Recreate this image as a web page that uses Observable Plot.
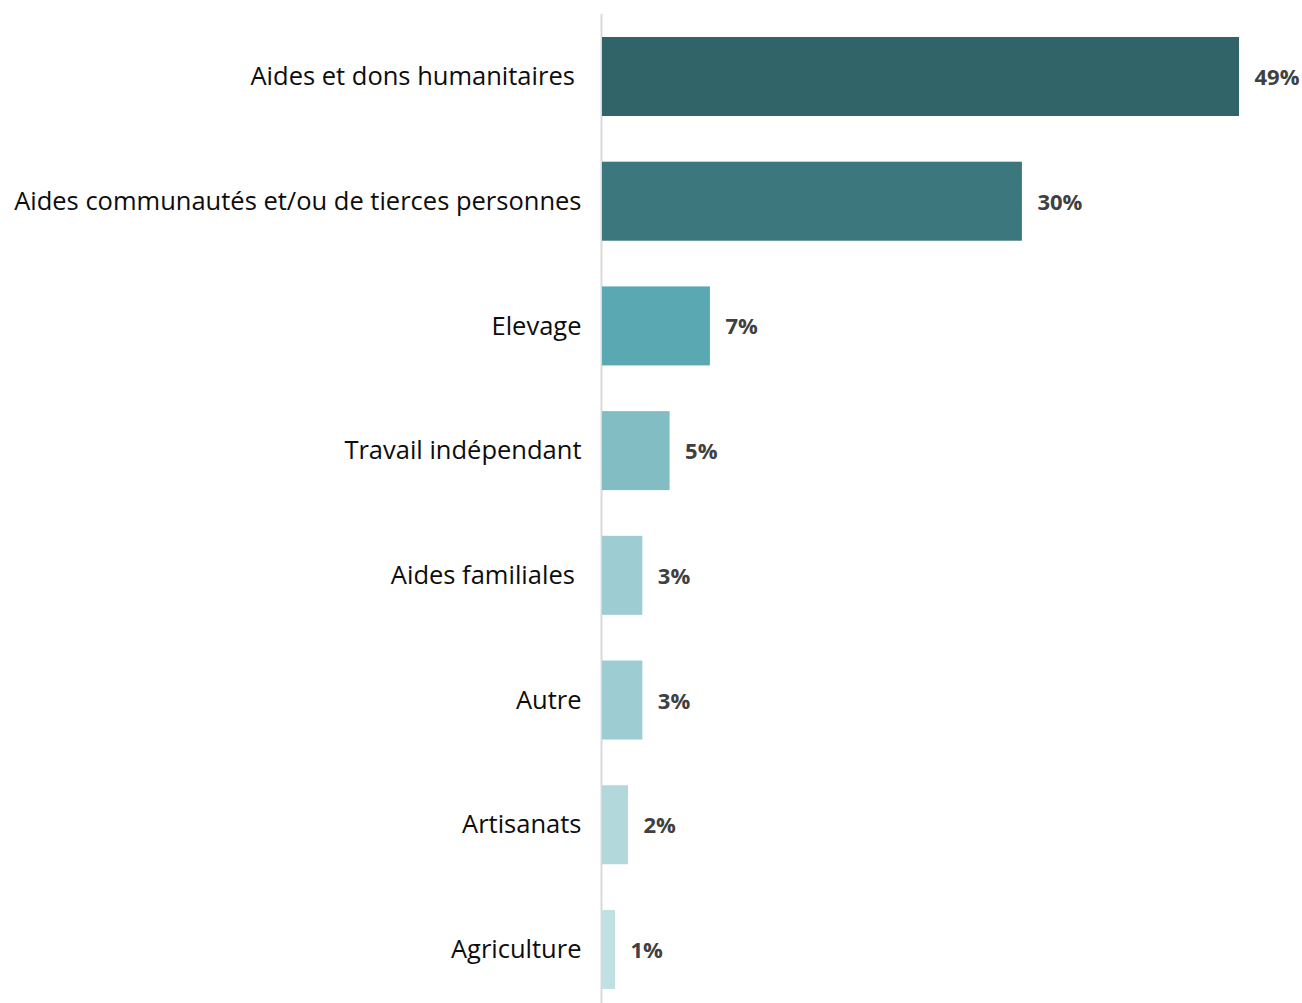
<!DOCTYPE html>
<html><head><meta charset="utf-8">
<script src="https://cdn.jsdelivr.net/npm/d3@7"></script>
<script src="https://cdn.jsdelivr.net/npm/@observablehq/plot@0.6"></script>
<style>body{margin:0;background:#fff;} #chart{width:1302px;height:1003px;overflow:hidden;}</style>
</head><body><div id="chart"></div>
<script>
const categories = ["Aides et dons humanitaires\u00a0", "Aides communautés et/ou de tierces personnes", "Elevage", "Travail indépendant", "Aides familiales\u00a0", "Autre", "Artisanats", "Agriculture"];
const values = [49, 32.3, 8.3, 5.2, 3.1, 3.1, 2.0, 1.0];
const labels = ["49%", "30%", "7%", "5%", "3%", "3%", "2%", "1%"];
const colors = ["#306468", "#3b777c", "#5aa8b1", "#82bdc4", "#9dcdd2", "#9dcdd2", "#b2d8dc", "#bfe1e4"];

const data = categories.map((c, i) => ({cat: c, v: values[i], label: labels[i], color: colors[i]}));

const chart = Plot.plot({
  width: 1302, height: 1003,
  marginLeft: 602, marginRight: 63, marginTop: 14, marginBottom: 0,
  style: {fontFamily: "'Open Sans', Lato, sans-serif", background: "#fff"},
  x: {domain: [0, 49], axis: null},
  y: {domain: categories, type: "band", range: [14.14, 1011.8], round: false, paddingInner: 0.3665, paddingOuter: 0.18325, axis: null},
  marks: [
    Plot.ruleX([0], {stroke: "#d9d9d9", strokeWidth: 2, dx: -1}),
    Plot.barX(data, {y: "cat", x: "v", fill: "color"}),
    Plot.text(data, {y: "cat", x: 0, text: "cat", textAnchor: "end", dx: -21, fontSize: 25.5, fill: "#0d0d0d"}),
    Plot.text(data, {y: "cat", x: "v", text: "label", textAnchor: "start", dx: 15, dy: 1, fontSize: 22, fontWeight: "bold", fill: "#404040"})
  ]
});
document.getElementById("chart").appendChild(chart);
</script>
</body></html>
